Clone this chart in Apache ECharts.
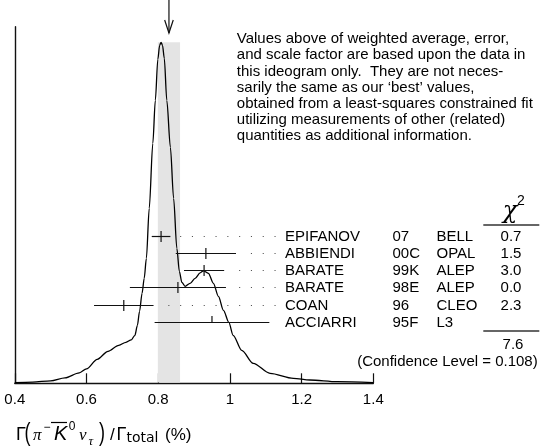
<!DOCTYPE html>
<html><head><meta charset="utf-8">
<script src="https://cdn.jsdelivr.net/npm/echarts@6/dist/echarts.min.js"></script>
<style>html,body{margin:0;padding:0;background:#fff}#c{width:546px;height:447px}</style>
</head><body><div id="c"></div>
<script>
// Ideogram curve (x in %, height in arbitrary units)
const curveX = [0.40, 0.45, 0.50, 0.54, 0.58, 0.60, 0.63, 0.66, 0.69, 0.71, 0.725, 0.735, 0.742, 0.748, 0.755, 0.761, 0.767, 0.775, 0.785, 0.792, 0.799, 0.804, 0.808, 0.812, 0.817, 0.824, 0.834, 0.843, 0.852, 0.859, 0.866, 0.875, 0.889, 0.903, 0.917, 0.926, 0.94, 0.954, 0.968, 0.982, 0.997, 1.009, 1.033, 1.065, 1.112, 1.177, 1.223, 1.30, 1.40];
const curveY = [0.6, 1.2, 2.5, 5.5, 10.5, 14.5, 24, 32, 38, 41, 43.5, 48, 58, 72, 90, 105, 125, 175, 240, 283, 324, 338, 341, 338, 325, 283, 236, 185, 135, 112, 101, 97, 100, 105, 110.5, 112.5, 110, 100, 87, 73, 61, 48, 33, 20, 10, 5, 3.3, 1.6, 0.7];

// Measurements
const names = ['EPIFANOV', 'ABBIENDI', 'BARATE', 'BARATE', 'COAN', 'ACCIARRI'];
const years = ['07', '00C', '99K', '98E', '96', '95F'];
const experiments = ['BELL', 'OPAL', 'ALEP', 'ALEP', 'CLEO', 'L3'];
const values = [0.808, 0.933, 0.928, 0.855, 0.704, 0.95];
const errors = [0.026, 0.084, 0.056, 0.134, 0.083, 0.16];
const chi2 = ['0.7', '1.5', '3.0', '0.0', '2.3', ''];
const usedInAverage = [true, true, true, true, true, false];

// Weighted average
const average = 0.830;
const averageError = 0.031;
const chi2Total = '7.6';
const confidenceLevel = '0.108';

// Axis ticks
const xMin = 0.4, xMax = 1.4, xStep = 0.2;

const noteLines = [
  'Values above of weighted average, error,',
  'and scale factor are based upon the data in',
  'this ideogram only.  They are not neces-',
  'sarily the same as our \u2018best\u2019 values,',
  'obtained from a least-squares constrained fit',
  'utilizing measurements of other (related)',
  'quantities as additional information.'
];

const SANS = '"Liberation Sans", Arial, Helvetica, sans-serif';
const SERIF = '"Liberation Serif", "Times New Roman", serif';
const bandTop = Math.max(...curveY);

const chart = echarts.init(document.getElementById('c'), null, {renderer: 'canvas'});

function renderBand(params, api) {
  const lo = api.coord([average - averageError, 0]);
  const hi = api.coord([average + averageError, bandTop]);
  const ax = api.coord([average, 0])[0];
  return {
    type: 'group',
    children: [
      {type: 'rect', shape: {x: lo[0], y: hi[1], width: hi[0] - lo[0], height: lo[1] - hi[1] - 0.8},
       style: {fill: '#e4e4e4'}},
      {type: 'line', shape: {x1: ax, y1: 0, x2: ax, y2: 33}, style: {stroke: '#111', lineWidth: 1.2}},
      {type: 'polyline', shape: {points: [[ax - 4.3, 20], [ax, 33], [ax + 4.3, 20]]},
       style: {stroke: '#111', lineWidth: 1.2, fill: null}}
    ]
  };
}

const DOT_END = 275, DOT_STEP = 11.8;
const COL_NAME = 285, COL_YEAR = 392.5, COL_EXP = 436.5, COL_CHI = 511;

function renderRow(params, api) {
  const i = params.dataIndex;
  const v = values[i], e = errors[i];
  const c = api.coord([v, i]);
  const l = api.coord([v - e, i]);
  const r = api.coord([v + e, i]);
  const y = Math.round(c[1]) + 0.5;
  const st = {stroke: '#111', lineWidth: 1.2};
  const ch = [];
  ch.push({type: 'line', shape: {x1: l[0], y1: y, x2: r[0], y2: y}, style: st});
  if (usedInAverage[i]) {
    ch.push({type: 'line', shape: {x1: c[0], y1: y - 5.5, x2: c[0], y2: y + 5.5}, style: st});
  } else {
    ch.push({type: 'line', shape: {x1: c[0], y1: y - 6.5, x2: c[0], y2: y}, style: st});
  }
  for (let k = 0; k < 40; k++) {
    const dx = DOT_END - DOT_STEP * k;
    if (dx < r[0] + 6) break;
    ch.push({type: 'rect', shape: {x: dx - 0.5, y: y - 0.5, width: 1.1, height: 1.1}, style: {fill: '#555'}});
  }
  const ty = y + 0.5;
  const tf = '15px ' + SANS;
  ch.push({type: 'text', style: {text: names[i], x: COL_NAME, y: ty, font: tf, fill: '#000', textAlign: 'left', textVerticalAlign: 'middle'}});
  ch.push({type: 'text', style: {text: years[i], x: COL_YEAR, y: ty, font: tf, fill: '#000', textAlign: 'left', textVerticalAlign: 'middle'}});
  ch.push({type: 'text', style: {text: experiments[i], x: COL_EXP, y: ty, font: tf, fill: '#000', textAlign: 'left', textVerticalAlign: 'middle'}});
  if (chi2[i]) ch.push({type: 'text', style: {text: chi2[i], x: COL_CHI, y: ty, font: tf, fill: '#000', textAlign: 'center', textVerticalAlign: 'middle'}});
  return {type: 'group', children: ch};
}

function txt(text, x, y, font, align, extra) {
  const el = {type: 'text', x: x, y: y, style: {text: text, font: font, fill: '#000', textAlign: align || 'left', textVerticalAlign: 'middle'}, z: 10};
  if (extra) Object.assign(el, extra);
  return el;
}

const option = {
  animation: false,
  backgroundColor: '#fff',
  grid: {left: 14.8, right: 546 - 373.3, top: 26.7, bottom: 447 - 383.3, containLabel: false},
  xAxis: {
    type: 'value', min: xMin, max: xMax, interval: xStep,
    axisLine: {show: true, onZero: false, lineStyle: {color: '#111', width: 1.4}},
    axisTick: {show: true, inside: true, length: 10, lineStyle: {color: '#111', width: 1.2}},
    axisLabel: {show: true, color: '#000', fontSize: 15, fontFamily: SANS, margin: 9},
    splitLine: {show: false}
  },
  yAxis: [
    {type: 'value', min: 0, max: 356.6,
     axisLine: {show: true, lineStyle: {color: '#111', width: 1.4}},
     axisTick: {show: false}, axisLabel: {show: false}, splitLine: {show: false}},
    {type: 'value', min: -12.075, max: 8.538, inverse: true, show: false,
     axisLine: {show: false}, axisTick: {show: false}, axisLabel: {show: false}, splitLine: {show: false}}
  ],
  series: [
    {type: 'custom', xAxisIndex: 0, yAxisIndex: 0, z: 1, data: [[average, 0]], renderItem: renderBand, silent: true},
    {type: 'line', xAxisIndex: 0, yAxisIndex: 0, z: 2, showSymbol: false, smooth: 0.3, smoothMonotone: 'x',
     lineStyle: {color: '#000', width: 1.3}, data: curveX.map((x, i) => [x, curveY[i]]), silent: true},
    {type: 'custom', xAxisIndex: 0, yAxisIndex: 1, z: 3, data: values.map((v, i) => [v, i]), renderItem: renderRow, silent: true}
  ],
  graphic: [
    {type: 'text', left: 236.8, top: 31, z: 10,
     style: {text: noteLines.join('\n'), font: '15px ' + SANS, lineHeight: 16.2, fill: '#000'}},
    txt('\u03C7', 510, 212, 'italic 24px "DejaVu Serif", serif', 'center'),
    txt('2', 521, 201.5, '14px ' + SANS, 'center'),
    {type: 'line', shape: {x1: 483.3, y1: 225, x2: 539.3, y2: 225}, style: {stroke: '#333', lineWidth: 1.3}, z: 10},
    {type: 'line', shape: {x1: 483.3, y1: 331, x2: 539.3, y2: 331}, style: {stroke: '#333', lineWidth: 1.3}, z: 10},
    txt(chi2Total, 513, 344.5, '15px ' + SANS, 'center'),
    txt('(Confidence Level = ' + confidenceLevel + ')', 537.7, 362, '15px ' + SANS, 'right'),
    // axis title: Γ(π⁻ K̄⁰ ν_τ)/Γ_total (%)
    txt('\u0393', 16, 435, '18px ' + SANS),
    txt('(', 24.5, 433.5, '18px ' + SANS, 'left', {scaleY: 1.45}),
    txt('\u03C0', 33, 436, 'italic 17px ' + SERIF),
    txt('\u2212', 43.5, 427.5, '12px ' + SANS),
    txt('K', 54, 434.5, 'italic 20px ' + SANS),
    {type: 'line', shape: {x1: 51, y1: 422.5, x2: 67, y2: 422.5}, style: {stroke: '#000', lineWidth: 1.2}, z: 10},
    txt('0', 68.8, 426.5, '12px ' + SANS),
    txt('\u03BD', 79, 436, 'italic 17px ' + SERIF),
    txt('\u03C4', 88.5, 441.5, 'italic 13px ' + SERIF),
    txt(')', 99, 433.5, '18px ' + SANS, 'left', {scaleY: 1.45}),
    txt('/', 110, 435, '17px ' + SANS),
    txt('\u0393', 116.5, 435, '18px ' + SANS),
    txt('total', 126.5, 438.5, '14px "DejaVu Sans", sans-serif'),
    txt('(%)', 165, 435, '17px ' + SANS)
  ]
};
chart.setOption(option);
</script>
</body></html>
